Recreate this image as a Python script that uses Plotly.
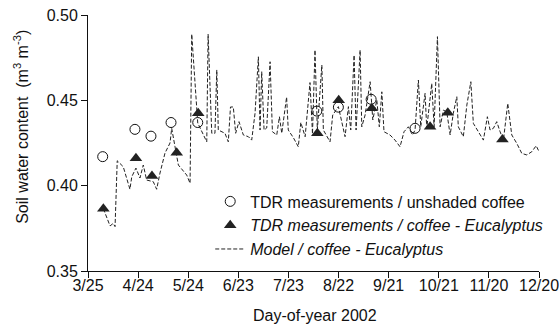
import plotly.graph_objects as go

# Day-of-year ticks (2002)
tick_days = [84, 114, 144, 174, 204, 234, 264, 294, 324, 354]
tick_labels = ["3/25", "4/24", "5/24", "6/23", "7/23", "8/22", "9/21", "10/21", "11/20", "12/20"]

# TDR measurements / unshaded coffee (open circles)
unshaded_day = [92.8, 112.1, 121.7, 133.7, 149.7, 221.0, 233.9, 253.5, 279.8]
unshaded_swc = [0.417, 0.433, 0.429, 0.437, 0.437, 0.4437, 0.446, 0.4506, 0.4336]

# TDR measurements / coffee - Eucalyptus (filled triangles)
euc_day = [93.2, 112.7, 122.3, 137.1, 150.0, 221.3, 234.1, 253.9, 288.8, 299.4, 332.1]
euc_swc = [0.3865, 0.416, 0.4057, 0.4193, 0.4424, 0.4307, 0.450, 0.4453, 0.4345, 0.4427, 0.4271]

# Model / coffee - Eucalyptus (dashed line)
model_day = [93.2, 94.8, 97.2, 99.1, 100.2, 101.5, 105.1, 109.1, 110.2, 112.7, 115.1, 117.1,
             119.1, 123.1, 125.1, 127.1, 130.1, 133.1, 134.1, 136.1, 138.1, 143.1, 145.1, 146.1,
             149.7, 155.1, 155.9, 158.1, 160.0, 161.1, 162.0, 166.0, 168.0, 169.3, 171.0, 172.4,
             174.4, 177.0, 180.0, 182.0, 184.0, 186.0, 187.0, 188.0, 189.4, 191.0, 193.0, 194.4,
             197.0, 198.6, 200.0, 202.9, 203.9, 206.9, 209.9, 211.4, 214.0, 216.9, 218.4, 219.9,
             221.3, 224.0, 224.9, 228.9, 230.5, 233.9, 237.9, 239.9, 241.3, 243.3, 244.5, 246.9,
             247.9, 249.9, 252.9, 254.5, 256.9, 258.4, 259.9, 261.2, 264.8, 267.8, 270.8, 273.2,
             275.8, 278.2, 279.8, 281.8, 283.2, 285.8, 286.8, 289.8, 291.2, 293.2, 294.8, 296.8,
             298.8, 300.8, 302.7, 304.8, 305.7, 308.7, 310.8, 313.2, 314.7, 317.7, 320.7, 323.1,
             324.7, 326.7, 328.7, 330.7, 332.7, 335.3, 337.7, 340.7, 343.7, 346.7, 349.7, 352.3,
             354.0]
model_swc = [0.3865, 0.3828, 0.3764, 0.3779, 0.3760, 0.4146, 0.4111, 0.3979, 0.4052, 0.4103, 0.4045, 0.4121,
             0.4033, 0.4023, 0.3979, 0.4074, 0.4191, 0.4250, 0.4336, 0.4228, 0.4121, 0.4062, 0.4014, 0.4888,
             0.4367, 0.4257, 0.4888, 0.4307, 0.4307, 0.4678, 0.4326, 0.4307, 0.4257, 0.4461, 0.4461, 0.4307,
             0.4375, 0.4297, 0.4287, 0.4267, 0.4424, 0.4755, 0.4326, 0.4668, 0.4326, 0.4338, 0.4726, 0.4316,
             0.4297, 0.4404, 0.4307, 0.4519, 0.4326, 0.4282, 0.4228, 0.4370, 0.4287, 0.4604, 0.4303, 0.4795,
             0.4326, 0.4707, 0.4326, 0.4257, 0.4414, 0.4463, 0.4287, 0.4463, 0.4326, 0.4765, 0.4326, 0.4795,
             0.4345, 0.4414, 0.4609, 0.4385, 0.4502, 0.4345, 0.4550, 0.4316, 0.4297, 0.4267, 0.4228, 0.4316,
             0.4345, 0.4297, 0.4326, 0.4619, 0.4345, 0.4541, 0.4336, 0.4599, 0.4345, 0.4873, 0.4345, 0.4443,
             0.4431, 0.4297, 0.4424, 0.4521, 0.4345, 0.4287, 0.4472, 0.4609, 0.4365, 0.4316, 0.4267, 0.4404,
             0.4326, 0.4336, 0.4375, 0.4316, 0.4267, 0.4482, 0.4297, 0.4248, 0.4189, 0.4180, 0.4199, 0.4234,
             0.4200]

FONT = "Liberation Sans, Arial, sans-serif"

fig = go.Figure()
fig.add_trace(go.Scatter(
    x=model_day, y=model_swc, mode="lines",
    name="<i>Model / coffee - Eucalyptus</i>",
    line=dict(color="#222222", width=1, dash="4px,2px"),
    legendrank=3,
))
fig.add_trace(go.Scatter(
    x=unshaded_day, y=unshaded_swc, mode="markers",
    name="TDR measurements / unshaded coffee",
    marker=dict(symbol="circle-open", size=10, color="#111111", line=dict(width=1, color="#111111")),
    legendrank=1,
))
fig.add_trace(go.Scatter(
    x=euc_day, y=euc_swc, mode="markers",
    name="<i>TDR measurements / coffee - Eucalyptus</i>",
    marker=dict(symbol="triangle-up", size=11, color="#222222"),
    legendrank=2,
))

fig.update_layout(
    width=560, height=324,
    margin=dict(l=88, r=21, t=15, b=53, autoexpand=False),
    paper_bgcolor="white", plot_bgcolor="white",
    font=dict(family=FONT, size=16, color="#111111"),
    showlegend=True,
    legend=dict(x=0.271, y=0.338, xanchor="left", yanchor="top",
                bgcolor="rgba(0,0,0,0)", font=dict(size=16, family=FONT),
                itemwidth=30),
    xaxis=dict(range=[84, 354], tickmode="array", tickvals=tick_days, ticktext=tick_labels,
               showline=True, linecolor="#111111", linewidth=1, ticks="outside", ticklen=6,
               tickcolor="#111111", showgrid=False, zeroline=False, ticklabelstandoff=-6,
               automargin=False),
    yaxis=dict(range=[0.35, 0.50], tickmode="array", tickvals=[0.35, 0.40, 0.45, 0.50],
               ticktext=["0.35", "0.40", "0.45", "0.50"], automargin=False,
               showline=True, linecolor="#111111", linewidth=1, ticks="outside", ticklen=6,
               tickcolor="#111111", showgrid=False, zeroline=False),
    annotations=[
        dict(text="Soil water content  (m<sup>3</sup> m<sup>-3</sup>)",
             xref="paper", yref="paper", x=-0.149, y=0.5625,
             xanchor="center", yanchor="middle", textangle=-90,
             showarrow=False, font=dict(size=16, family=FONT)),
        dict(text="Day-of-year 2002",
             xref="paper", yref="paper", x=0.504, y=-0.172,
             xanchor="center", yanchor="middle",
             showarrow=False, font=dict(size=16, family=FONT)),
    ],
)

fig.write_html("out.html")
